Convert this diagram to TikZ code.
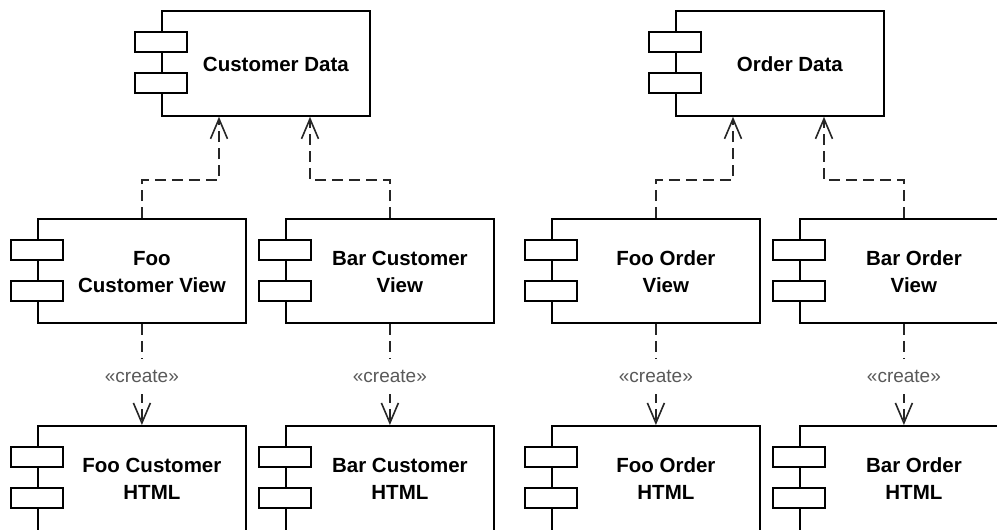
\documentclass[tikz,border=0pt]{standalone}
\usepackage{fontspec}
\setmainfont{Liberation Sans}
\usetikzlibrary{arrows.meta}
\tikzset{
  comp/.style={draw, line width=1.8pt, fill=white, minimum width=208pt, inner sep=0pt, anchor=north west},
  comptab/.style={draw, line width=1.8pt, fill=white},
  lbl/.style={font=\bfseries\fontsize{20.5}{27}\selectfont, align=center, inner sep=0pt},
  dep/.style={draw=black!85, line width=1.8pt, dash pattern=on 11pt off 6pt,
    -{Straight Barb[length=20pt,width=17pt,line width=1.6pt]}},
  stereo/.style={fill=white, text=black!65, font=\fontsize{19}{22}\selectfont, inner xsep=2pt, inner ysep=11pt}
}
\newcommand\compbox[5]{%
  \node[comp, minimum height=#4pt] (#1) at (#2,#3) {};
  \draw[comptab] ([shift={(-26,22)}]#1.north west) rectangle ++(52,20);
  \draw[comptab] ([shift={(-26,63)}]#1.north west) rectangle ++(52,20);
  \node[lbl] (#1-t) at ([shift={(10,54)}]#1.north) {#5};
}
\begin{document}
\begin{tikzpicture}[x=1pt,y=-1pt]
\useasboundingbox (0,0) rectangle (997,530);
\clip (0,0) rectangle (997,530);
\compbox{cd}{161}{10}{105}{Customer Data}
\compbox{fcv}{37}{218}{104}{Foo\\Customer View}
\compbox{bcv}{285}{218}{104}{Bar Customer\\View}
\compbox{fch}{37}{425}{130}{Foo Customer\\HTML}
\compbox{bch}{285}{425}{130}{Bar Customer\\HTML}
\compbox{od}{675}{10}{105}{Order Data}
\compbox{fov}{551}{218}{104}{Foo Order\\View}
\compbox{bov}{799}{218}{104}{Bar Order\\View}
\compbox{foh}{551}{425}{130}{Foo Order\\HTML}
\compbox{boh}{799}{425}{130}{Bar Order\\HTML}
\coordinate (mid) at (0,180);
\coordinate (cdA) at ([xshift=58pt]cd.south west);
\coordinate (cdB) at ([xshift=149pt]cd.south west);
\coordinate (odA) at ([xshift=58pt]od.south west);
\coordinate (odB) at ([xshift=149pt]od.south west);
\draw[dep] (fcv.north) -- (fcv.north |- mid) -| (cdA);
\draw[dep] (bcv.north) -- (bcv.north |- mid) -| (cdB);
\draw[dep] (fov.north) -- (fov.north |- mid) -| (odA);
\draw[dep] (bov.north) -- (bov.north |- mid) -| (odB);
\draw[dep] (fcv.south) -- node[stereo, pos=0.52] {«create»} (fch.north);
\draw[dep] (bcv.south) -- node[stereo, pos=0.52] {«create»} (bch.north);
\draw[dep] (fov.south) -- node[stereo, pos=0.52] {«create»} (foh.north);
\draw[dep] (bov.south) -- node[stereo, pos=0.52] {«create»} (boh.north);
\end{tikzpicture}
\end{document}
